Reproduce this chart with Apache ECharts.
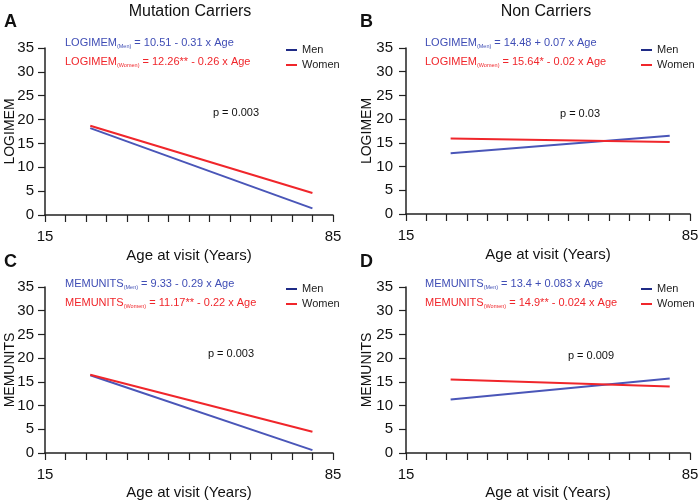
<!DOCTYPE html>
<html><head><meta charset="utf-8">
<script src="https://cdn.jsdelivr.net/npm/echarts@6/dist/echarts.min.js"></script>
<style>html,body{margin:0;padding:0;background:#fff}#c{width:698px;height:500px}</style>
</head><body><div id="c"></div>
<script>
// Data
const ageRange = [26, 80];
const xTickLabels = [15, 85];
const panelTitles = ['Mutation Carriers', 'Non Carriers'];
const panelLetters = ['A', 'B', 'C', 'D'];
const yNames = ['LOGIMEM', 'LOGIMEM', 'MEMUNITS', 'MEMUNITS'];
const menValues = [[18.2, 1.4], [12.8, 16.5], [16.4, 0.6], [11.3, 15.7]];
const womenValues = [[18.7, 4.6], [15.9, 15.2], [16.5, 4.5], [15.5, 14.0]];
const pValues = ['p = 0.003', 'p = 0.03', 'p = 0.003', 'p = 0.009'];
const menEq = [
  ['LOGIMEM', ' = 10.51 - 0.31 x Age'],
  ['LOGIMEM', ' = 14.48 + 0.07 x Age'],
  ['MEMUNITS', ' = 9.33 - 0.29 x Age'],
  ['MEMUNITS', ' = 13.4 + 0.083 x Age']
];
const womenEq = [
  ['LOGIMEM', ' = 12.26** - 0.26 x Age'],
  ['LOGIMEM', ' = 15.64* - 0.02 x Age'],
  ['MEMUNITS', ' = 11.17** - 0.22 x Age'],
  ['MEMUNITS', ' = 14.9** - 0.024 x Age']
];

const FONT = 'Liberation Sans, Arial, sans-serif';
const BLUE_LINE = '#4a56b8';
const BLUE_TEXT = '#3f4db5';
const BLUE_LEG = '#1f2b86';
const RED = '#f0262b';

const grids = [
  {left: 45, top: 48, width: 288, height: 167, outerBoundsMode: 'none', containLabel: false},
  {left: 406, top: 48, width: 284, height: 166, outerBoundsMode: 'none', containLabel: false},
  {left: 45, top: 287, width: 288, height: 166, outerBoundsMode: 'none', containLabel: false},
  {left: 406, top: 287, width: 284, height: 166, outerBoundsMode: 'none', containLabel: false}
];

const xAxes = [], yAxes = [], series = [], graphics = [], legends = [];
grids.forEach((g, i) => {
  const col = i % 2, row = Math.floor(i / 2);
  xAxes.push({
    gridIndex: i, type: 'value', min: 15, max: 85, interval: 5,
    name: 'Age at visit (Years)', nameLocation: 'middle', nameGap: row === 0 ? 33 : 32,
    nameTextStyle: {fontFamily: FONT, fontSize: 15, color: '#111'},
    axisLine: {lineStyle: {color: '#222', width: 1.5}},
    axisTick: {show: true, length: 7, lineStyle: {color: '#222', width: 1.2}},
    axisLabel: {fontFamily: FONT, fontSize: 15, color: '#111', margin: 14,
      formatter: v => (xTickLabels.indexOf(v) >= 0 ? String(v) : '')},
    splitLine: {show: false}
  });
  yAxes.push({
    gridIndex: i, type: 'value', min: 0, max: 35, interval: 5,
    axisLine: {show: true, lineStyle: {color: '#222', width: 1.5}},
    axisTick: {show: true, length: 7, lineStyle: {color: '#222', width: 1.2}},
    axisLabel: {fontFamily: FONT, fontSize: 15, color: '#111', margin: col === 0 ? 11 : 13},
    splitLine: {show: false}
  });
  // y-axis title, rotated
  graphics.push({
    type: 'text', x: col === 0 ? 10 : 367, y: g.top + g.height / 2, rotation: Math.PI / 2,
    style: {text: yNames[i], fontFamily: FONT, fontSize: 14, fill: '#111', align: 'center', verticalAlign: 'middle'}
  });
  series.push({
    name: 'Men', type: 'line', xAxisIndex: i, yAxisIndex: i, symbol: 'none',
    lineStyle: {color: BLUE_LINE, width: 2}, itemStyle: {color: BLUE_LEG},
    data: ageRange.map((a, k) => [a, menValues[i][k]]), silent: true, animation: false
  });
  series.push({
    name: 'Women', type: 'line', xAxisIndex: i, yAxisIndex: i, symbol: 'none',
    lineStyle: {color: RED, width: 2}, itemStyle: {color: RED},
    data: ageRange.map((a, k) => [a, womenValues[i][k]]), silent: true, animation: false
  });
  const lx = col === 0 ? 286 : 641;
  const ly = row === 0 ? 44.5 : 283.5;
  legends.push({
    left: lx, top: ly, orient: 'vertical', itemGap: 4, itemWidth: 11, itemHeight: 2,
    padding: 0, icon: 'rect', data: ['Men', 'Women'], selectedMode: false,
    textStyle: {fontFamily: FONT, fontSize: 11, lineHeight: 11, color: '#222'}
  });
  const ex = col === 0 ? 65 : 425;
  const ey = row === 0 ? 37 : 278;
  const eqRich = (c) => ({
    n: {fontFamily: FONT, fontSize: 11, fill: c, lineHeight: 13},
    s: {fontFamily: FONT, fontSize: 5.5, fill: c, lineHeight: 13, padding: [6, 0, 0, 0]}
  });
  graphics.push({
    type: 'text', left: ex, top: ey,
    style: {text: '{n|' + menEq[i][0] + '}{s|(Men)}{n|' + menEq[i][1] + '}', rich: eqRich(BLUE_TEXT)}
  });
  graphics.push({
    type: 'text', left: ex, top: ey + 19,
    style: {text: '{n|' + womenEq[i][0] + '}{s|(Women)}{n|' + womenEq[i][1] + '}', rich: eqRich(RED)}
  });
  const px = [236, 580, 231, 591][i];
  const py = [113, 114, 354, 356][i];
  graphics.push({
    type: 'text', x: px, y: py,
    style: {text: pValues[i], fontFamily: FONT, fontSize: 11, fill: '#111', align: 'center', verticalAlign: 'middle'}
  });
  graphics.push({
    type: 'text', x: col === 0 ? 4 : 360, y: row === 0 ? 22 : 262,
    style: {text: panelLetters[i], fontFamily: FONT, fontSize: 18, fontWeight: 'bold', fill: '#111', verticalAlign: 'middle'}
  });
});
panelTitles.forEach((t, k) => {
  graphics.push({
    type: 'text', x: k === 0 ? 190 : 546, y: 12,
    style: {text: t, fontFamily: FONT, fontSize: 16, fill: '#111', align: 'center', verticalAlign: 'middle'}
  });
});

const chart = echarts.init(document.getElementById('c'), null, {renderer: 'canvas'});
chart.setOption({
  animation: false,
  backgroundColor: '#fff',
  grid: grids,
  xAxis: xAxes,
  yAxis: yAxes,
  legend: legends,
  series: series,
  graphic: graphics
});
</script></body></html>
